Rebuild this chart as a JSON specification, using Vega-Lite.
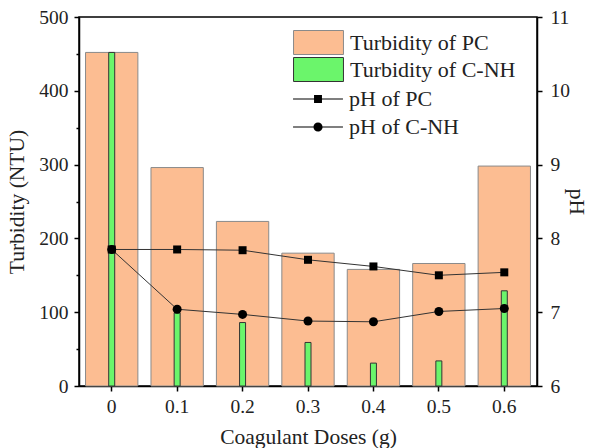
{
  "$schema": "https://vega.github.io/schema/vega-lite/v6.json",
  "width": 458,
  "height": 369,
  "autosize": {"type": "none"},
  "padding": {"left": 79, "top": 17, "right": 53, "bottom": 62},
  "background": "white",
  "config": {
    "font": "Liberation Serif",
    "view": {"stroke": "black", "strokeWidth": 1.5},
    "axis": {
      "grid": false,
      "domainColor": "black",
      "domainWidth": 1.5,
      "tickColor": "black",
      "tickWidth": 1.5,
      "labelFont": "Liberation Serif",
      "labelFontSize": 19.5,
      "labelColor": "#222",
      "titleFont": "Liberation Serif",
      "titleFontSize": 21.5,
      "titleFontWeight": "normal",
      "titleColor": "#222"
    },
    "legend": {
      "labelFont": "Liberation Serif",
      "labelFontSize": 22,
      "labelColor": "#222",
      "labelLimit": 400
    }
  },
  "datasets": {
    "turb": [
      {"dose": "0", "series": "Turbidity of PC", "turbidity": 452},
      {"dose": "0.1", "series": "Turbidity of PC", "turbidity": 296},
      {"dose": "0.2", "series": "Turbidity of PC", "turbidity": 223},
      {"dose": "0.3", "series": "Turbidity of PC", "turbidity": 180},
      {"dose": "0.4", "series": "Turbidity of PC", "turbidity": 158},
      {"dose": "0.5", "series": "Turbidity of PC", "turbidity": 166},
      {"dose": "0.6", "series": "Turbidity of PC", "turbidity": 298},
      {"dose": "0", "series": "Turbidity of C-NH", "turbidity": 452},
      {"dose": "0.1", "series": "Turbidity of C-NH", "turbidity": 99},
      {"dose": "0.2", "series": "Turbidity of C-NH", "turbidity": 86},
      {"dose": "0.3", "series": "Turbidity of C-NH", "turbidity": 59},
      {"dose": "0.4", "series": "Turbidity of C-NH", "turbidity": 31},
      {"dose": "0.5", "series": "Turbidity of C-NH", "turbidity": 34},
      {"dose": "0.6", "series": "Turbidity of C-NH", "turbidity": 129}
    ],
    "ph": [
      {"dose": "0", "series": "pH of PC", "pH": 7.85},
      {"dose": "0.1", "series": "pH of PC", "pH": 7.85},
      {"dose": "0.2", "series": "pH of PC", "pH": 7.84},
      {"dose": "0.3", "series": "pH of PC", "pH": 7.71},
      {"dose": "0.4", "series": "pH of PC", "pH": 7.62},
      {"dose": "0.5", "series": "pH of PC", "pH": 7.5},
      {"dose": "0.6", "series": "pH of PC", "pH": 7.54},
      {"dose": "0", "series": "pH of C-NH", "pH": 7.85},
      {"dose": "0.1", "series": "pH of C-NH", "pH": 7.04},
      {"dose": "0.2", "series": "pH of C-NH", "pH": 6.97},
      {"dose": "0.3", "series": "pH of C-NH", "pH": 6.88},
      {"dose": "0.4", "series": "pH of C-NH", "pH": 6.87},
      {"dose": "0.5", "series": "pH of C-NH", "pH": 7.01},
      {"dose": "0.6", "series": "pH of C-NH", "pH": 7.05}
    ]
  },
  "encoding": {
    "x": {
      "field": "dose",
      "type": "ordinal",
      "sort": ["0", "0.1", "0.2", "0.3", "0.4", "0.5", "0.6"],
      "scale": {"type": "band", "paddingInner": 0.2, "paddingOuter": 0.1},
      "axis": {
        "title": "Coagulant Doses (g)",
        "labelAngle": 0,
        "tickSize": 5,
        "labelPadding": 6,
        "titlePadding": 11
      }
    }
  },
  "layer": [
    {
      "data": {"name": "turb"},
      "encoding": {
        "y": {
          "field": "turbidity",
          "type": "quantitative",
          "scale": {"domain": [0, 500], "nice": false},
          "axis": {
            "title": "Turbidity (NTU)",
            "values": [0, 50, 100, 150, 200, 250, 300, 350, 400, 450, 500],
            "labelExpr": "datum.value % 100 === 0 ? datum.label : ''",
            "tickSize": {"condition": {"test": "datum.value % 100 === 0", "value": 5}, "value": 3},
            "labelPadding": 6,
            "titlePadding": 10
          }
        },
        "fill": {
          "field": "series",
          "type": "nominal",
          "scale": {
            "domain": ["Turbidity of PC", "Turbidity of C-NH"],
            "range": ["#FCBD92", "#6BF56B"]
          },
          "legend": {
            "title": null,
            "orient": "none",
            "legendX": 227,
            "legendY": 13,
            "padding": 0,
            "symbolType": "M-2.08,-1H2.08V1H-2.08Z",
            "symbolSize": 576,
            "symbolStrokeWidth": 1,
            "labelOffset": 19,
            "labelFontSize": 22,
            "labelLimit": 400,
            "rowPadding": -2
          }
        },
        "stroke": {
          "field": "series",
          "type": "nominal",
          "scale": {
            "domain": ["Turbidity of PC", "Turbidity of C-NH"],
            "range": ["#8a8a8a", "#333333"]
          },
          "legend": {
            "title": null,
            "orient": "none",
            "legendX": 227,
            "legendY": 13,
            "padding": 0,
            "symbolType": "M-2.08,-1H2.08V1H-2.08Z",
            "symbolSize": 576,
            "symbolStrokeWidth": 1,
            "labelOffset": 19,
            "labelFontSize": 22,
            "labelLimit": 400,
            "rowPadding": -2
          }
        }
      },
      "layer": [
        {
          "transform": [{"filter": "datum.series === 'Turbidity of PC'"}],
          "mark": {"type": "bar", "strokeWidth": 1}
        },
        {
          "transform": [{"filter": "datum.series === 'Turbidity of C-NH'"}],
          "mark": {"type": "bar", "size": 6, "strokeWidth": 1}
        }
      ]
    },
    {
      "data": {"name": "ph"},
      "encoding": {
        "y": {
          "field": "pH",
          "type": "quantitative",
          "scale": {"domain": [6, 11], "nice": false},
          "axis": {
            "orient": "right",
            "title": "pH",
            "values": [6, 7, 8, 9, 10, 11],
            "tickSize": 5,
            "labelPadding": 8,
            "titlePadding": -5
          }
        }
      },
      "layer": [
        {
          "mark": {"type": "line", "color": "#333", "strokeWidth": 1},
          "encoding": {"detail": {"field": "series"}}
        },
        {
          "transform": [{"filter": "datum.series === 'pH of PC'"}],
          "mark": {"type": "point", "shape": "square", "filled": true, "color": "black", "size": 64, "opacity": 1}
        },
        {
          "transform": [{"filter": "datum.series === 'pH of C-NH'"}],
          "mark": {"type": "point", "shape": "circle", "filled": true, "color": "black", "size": 81, "opacity": 1}
        },
        {
          "mark": {"type": "point", "filled": true, "color": "black", "opacity": 0, "size": 1},
          "encoding": {
            "shape": {
              "field": "series",
              "type": "nominal",
              "scale": {
                "domain": ["pH of PC", "pH of C-NH"],
                "range": [
                  "M-2.08,-0.05H2.08V0.05H-2.08Z M-0.33,-0.33H0.33V0.33H-0.33Z",
                  "M-2.08,-0.05H2.08V0.05H-2.08Z M0.38,0A0.38,0.38 0 1,1 -0.38,0A0.38,0.38 0 1,1 0.38,0Z"
                ]
              },
              "legend": {
                "title": null,
                "orient": "none",
                "legendX": 227,
                "legendY": 70,
                "padding": 0,
                "symbolSize": 576,
                "symbolFillColor": "#111",
                "symbolStrokeWidth": 0,
                "symbolOpacity": 1,
                "labelOffset": 19,
                "labelFontSize": 22,
                "labelLimit": 400,
                "rowPadding": 5
              }
            }
          }
        }
      ]
    }
  ],
  "resolve": {"scale": {"y": "independent"}}
}
